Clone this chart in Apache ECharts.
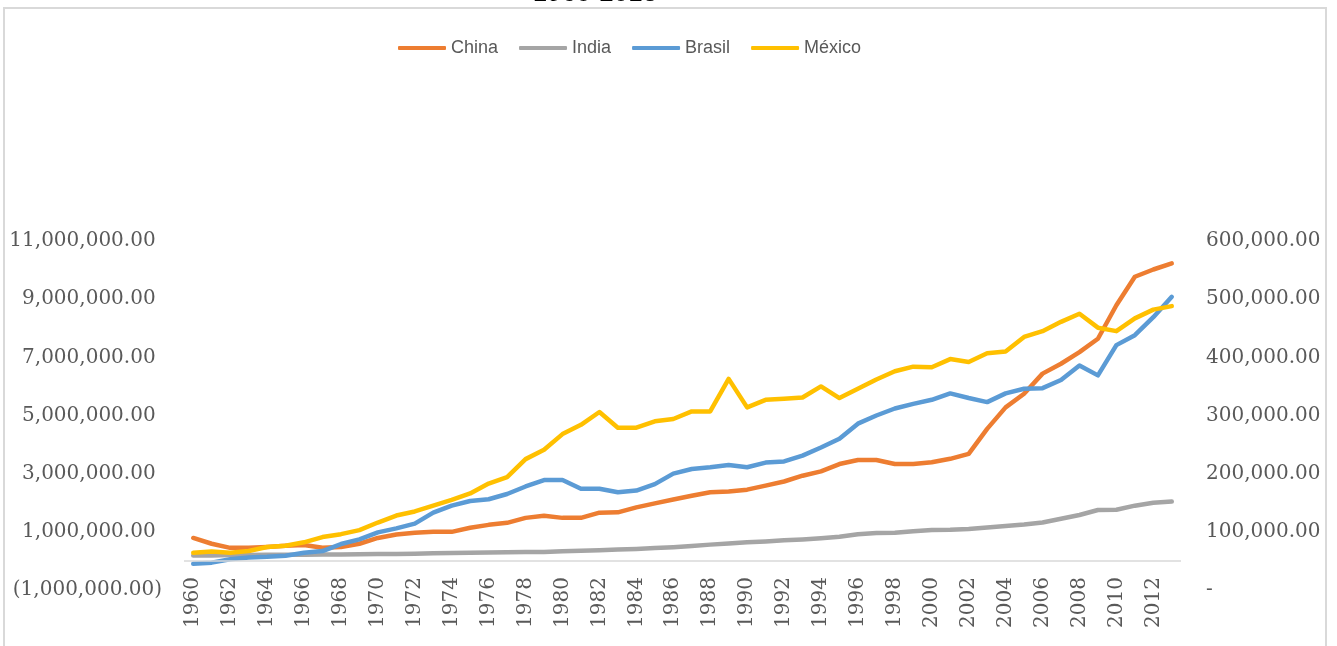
<!DOCTYPE html>
<html>
<head>
<meta charset="utf-8">
<script src="https://cdn.jsdelivr.net/npm/echarts@6.0.0/dist/echarts.min.js"></script>
<style>
    html, body {margin: 0; padding: 0; background: #fff;}
    #main {width: 1337px; height: 646px;}
</style>
</head>
<body>
<div id="main"></div>
<script>
    var years = [];
    for (var y = 1960; y <= 2013; y++) years.push(String(y));

    // left axis
    var china = [
        790000, 590000, 450000, 450000, 480000, 520000, 550000, 450000, 480000, 590000,
        790000, 910000, 970000, 1000000, 1000000, 1140000, 1240000, 1310000, 1480000, 1550000,
        1480000, 1480000, 1660000, 1670000, 1840000, 1980000, 2110000, 2240000, 2360000, 2390000,
        2450000, 2590000, 2730000, 2930000, 3080000, 3330000, 3470000, 3470000, 3330000, 3330000,
        3390000, 3510000, 3680000, 4540000, 5280000, 5750000, 6440000, 6780000, 7180000, 7640000,
        8790000, 9770000, 10020000, 10230000
    ];
    var india = [
        190000, 190000, 200000, 200000, 210000, 210000, 210000, 220000, 220000, 230000,
        240000, 240000, 250000, 260000, 270000, 280000, 290000, 300000, 310000, 310000,
        330000, 350000, 370000, 390000, 410000, 440000, 470000, 510000, 560000, 600000,
        640000, 670000, 710000, 740000, 780000, 830000, 920000, 960000, 970000, 1020000,
        1060000, 1070000, 1100000, 1150000, 1200000, 1250000, 1320000, 1450000, 1580000, 1750000,
        1760000, 1900000, 2000000, 2040000
    ];
    // right axis
    var brasil = [
        45000, 47000, 53000, 56000, 57000, 59000, 64000, 67000, 79000, 87000,
        99000, 106000, 114000, 133000, 145000, 153000, 156000, 165000, 178000, 189000,
        189000, 174000, 174000, 168000, 171000, 182000, 200000, 208000, 211000, 215000,
        211000, 219000, 221000, 231000, 245000, 260000, 286000, 300000, 312000, 320000,
        327000, 338000, 330000, 323000, 338000, 346000, 347000, 361000, 386000, 369000,
        421000, 438000, 469000, 504000
    ];
    var mexico = [
        64000, 66000, 64000, 67000, 74000, 76000, 82000, 91000, 96000, 103000,
        116000, 128000, 135000, 145000, 155000, 166000, 183000, 194000, 225000, 241000,
        268000, 284000, 306000, 279000, 279000, 290000, 294000, 307000, 307000, 363000,
        314000, 327000, 329000, 331000, 350000, 330000, 346000, 362000, 376000, 384000,
        383000, 397000, 392000, 407000, 410000, 435000, 445000, 461000, 475000, 451000,
        445000, 467000, 482000, 488000
    ];

    function money(v) {
        return Math.abs(v).toLocaleString('en-US', {minimumFractionDigits: 2, maximumFractionDigits: 2});
    }

    var labelFont = {fontFamily: 'DejaVu Serif', fontSize: 20, color: '#595959'};

    function line(name, data, color, axis) {
        return {
            name: name, type: 'line', yAxisIndex: axis, data: data,
            symbol: 'none', smooth: false,
            lineStyle: {color: color, width: 4.5, cap: 'round', join: 'round'},
            itemStyle: {color: color}
        };
    }

    var series = [
        line('China', china, '#ED7D31', 1),
        line('India', india, '#A5A5A5', 1),
        line('Brasil', brasil, '#5B9BD5', 0),
        line('México', mexico, '#FFC000', 0)
    ];
    // horizontal category line sits at zero of the left axis
    series[1].markLine = {
        silent: true, symbol: 'none', animation: false,
        label: {show: false},
        lineStyle: {color: '#d9d9d9', width: 1.5, type: 'solid'},
        data: [{yAxis: 0}]
    };

    var chart = echarts.init(document.getElementById('main'));
    chart.setOption({
        backgroundColor: '#fff',
        animation: false,
        graphic: [
            {
                type: 'rect', silent: true, z: -1,
                shape: {x: 4, y: 8, width: 1322, height: 700},
                style: {fill: 'none', stroke: '#d9d9d9', lineWidth: 2}
            },
            {
                type: 'text', silent: true, x: 595, y: 7,
                style: {
                    text: '1960-2013', fill: '#000', font: '26px "Liberation Sans"',
                    textAlign: 'center', textVerticalAlign: 'bottom', align: 'center', verticalAlign: 'bottom'
                }
            }
        ],
        legend: {
            left: 393, top: 34,
            itemWidth: 48, itemHeight: 4, itemGap: 21,
            icon: 'roundRect',
            textStyle: {fontFamily: 'Liberation Sans', fontSize: 18, color: '#595959'},
            data: ['China', 'India', 'Brasil', 'México']
        },
        grid: {left: 184, right: 156, top: 241, bottom: 56},
        xAxis: {
            type: 'category', data: years, boundaryGap: true,
            axisLine: {show: false}, axisTick: {show: false},
            axisLabel: Object.assign({rotate: 90, interval: 1, margin: -13}, labelFont)
        },
        yAxis: [
            {
                type: 'value', position: 'right', min: 0, max: 600000, interval: 100000,
                splitLine: {show: false}, axisLine: {show: false}, axisTick: {show: false},
                axisLabel: Object.assign({
                    margin: 25, align: 'left',
                    formatter: function (v) { return v === 0 ? '-' : money(v); }
                }, labelFont)
            },
            {
                type: 'value', position: 'left', min: -1000000, max: 11000000, alignTicks: true,
                splitLine: {show: false}, axisLine: {show: false}, axisTick: {show: false},
                axisLabel: Object.assign({
                    margin: 22, align: 'right',
                    formatter: function (v) { return v < 0 ? '(' + money(v) + ')' : money(v) + ' '; }
                }, labelFont)
            }
        ],
        series: series
    });
</script>
</body>
</html>
